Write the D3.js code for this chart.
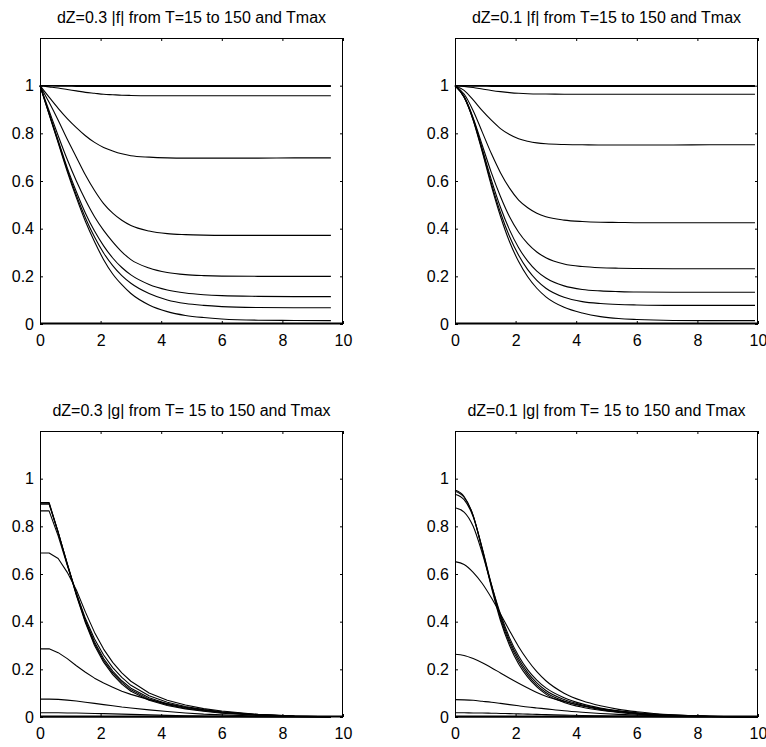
<!DOCTYPE html>
<html>
<head>
<meta charset="utf-8">
<script src="https://cdn.jsdelivr.net/npm/d3@7"></script>
<style>
  html, body { margin: 0; padding: 0; background: #fff; }
  svg { display: block; }
  text { font-family: "Liberation Sans", Arial, Helvetica, sans-serif; fill: #000; }
</style>
</head>
<body>
<svg id="chart" width="766" height="747"></svg>
<script>
// z sample positions (dZ = 0.3 runs end at 9.6, dZ = 0.1 runs end at 9.9)
const zDz03 = [0, 0.3, 0.6, 0.9, 1.2, 1.5, 1.8, 2.1, 2.4, 2.7, 3.0, 3.6, 4.2, 4.8, 5.4, 6.0, 7.2, 8.4, 9.6];
const zDz01 = [0, 0.3, 0.6, 0.9, 1.2, 1.5, 1.8, 2.1, 2.4, 2.7, 3.0, 3.6, 4.2, 4.8, 5.4, 6.0, 7.2, 8.4, 9.9];

const xTicks = [0, 2, 4, 6, 8, 10];
const yTicks = [0, 0.2, 0.4, 0.6, 0.8, 1];
const yTickLabels = ["0", "0.2", "0.4", "0.6", "0.8", "1"];

const titles = [
  "dZ=0.3 |f| from T=15 to 150 and Tmax",
  "dZ=0.1 |f| from T=15 to 150 and Tmax",
  "dZ=0.3 |g| from T= 15 to 150 and Tmax",
  "dZ=0.1 |g| from T= 15 to 150 and Tmax"
];

// |f|, dZ = 0.3
const fDz03 = [
  [1, 1, 1, 1, 1, 1, 1, 1, 1, 1, 1, 1, 1, 1, 1, 1, 1, 1, 1],
  [1, 0.999, 0.998, 0.998, 0.997, 0.997, 0.997, 0.997, 0.997, 0.997, 0.997, 0.997, 0.997, 0.997, 0.997, 0.997, 0.997, 0.997, 0.997],
  [1, 0.995, 0.99, 0.984, 0.978, 0.972, 0.968, 0.964, 0.962, 0.96, 0.959, 0.958, 0.958, 0.958, 0.958, 0.958, 0.958, 0.958, 0.958],
  [1, 0.952, 0.905, 0.862, 0.824, 0.79, 0.762, 0.741, 0.726, 0.714, 0.706, 0.7, 0.697, 0.696, 0.696, 0.696, 0.696, 0.697, 0.697],
  [1, 0.93, 0.855, 0.775, 0.70, 0.625, 0.56, 0.505, 0.465, 0.435, 0.413, 0.39, 0.379, 0.375, 0.373, 0.372, 0.372, 0.372, 0.372],
  [1, 0.895, 0.79, 0.69, 0.6, 0.52, 0.45, 0.393, 0.345, 0.303, 0.27, 0.235, 0.216, 0.207, 0.203, 0.201, 0.2, 0.2, 0.2],
  [1, 0.885, 0.77, 0.655, 0.555, 0.465, 0.39, 0.328, 0.277, 0.237, 0.206, 0.166, 0.143, 0.13, 0.123, 0.119, 0.116, 0.115, 0.115],
  [1, 0.882, 0.764, 0.647, 0.54, 0.445, 0.365, 0.298, 0.245, 0.203, 0.171, 0.128, 0.101, 0.086, 0.078, 0.073, 0.069, 0.068, 0.068],
  [1, 0.88, 0.76, 0.64, 0.53, 0.43, 0.345, 0.27, 0.21, 0.165, 0.128, 0.08, 0.052, 0.036, 0.027, 0.021, 0.016, 0.015, 0.014]
];

// |f|, dZ = 0.1
const fDz01 = [
  [1, 1, 1, 1, 1, 1, 1, 1, 1, 1, 1, 1, 1, 1, 1, 1, 1, 1, 1],
  [1, 0.999, 0.998, 0.998, 0.997, 0.997, 0.997, 0.997, 0.997, 0.997, 0.997, 0.997, 0.997, 0.997, 0.997, 0.997, 0.997, 0.997, 0.997],
  [1, 0.997, 0.992, 0.986, 0.98, 0.975, 0.971, 0.968, 0.966, 0.965, 0.965, 0.964, 0.964, 0.964, 0.964, 0.964, 0.964, 0.964, 0.964],
  [1, 0.98, 0.94, 0.895, 0.855, 0.82, 0.795, 0.777, 0.767, 0.76, 0.756, 0.753, 0.752, 0.751, 0.751, 0.751, 0.751, 0.752, 0.752],
  [1, 0.965, 0.895, 0.805, 0.715, 0.635, 0.57, 0.52, 0.488, 0.465, 0.45, 0.436, 0.43, 0.427, 0.426, 0.425, 0.425, 0.425, 0.425],
  [1, 0.955, 0.865, 0.75, 0.635, 0.535, 0.45, 0.385, 0.337, 0.302, 0.278, 0.252, 0.241, 0.236, 0.234, 0.233, 0.232, 0.232, 0.232],
  [1, 0.953, 0.86, 0.735, 0.605, 0.49, 0.395, 0.32, 0.264, 0.222, 0.193, 0.16, 0.145, 0.139, 0.136, 0.134, 0.133, 0.133, 0.133],
  [1, 0.952, 0.857, 0.728, 0.59, 0.468, 0.367, 0.288, 0.228, 0.183, 0.15, 0.112, 0.094, 0.086, 0.082, 0.08, 0.078, 0.078, 0.078],
  [1, 0.951, 0.855, 0.722, 0.58, 0.452, 0.345, 0.262, 0.198, 0.15, 0.114, 0.07, 0.046, 0.031, 0.023, 0.019, 0.015, 0.014, 0.014]
];

// |g|, dZ = 0.3
const gDz03 = [
  [0.900, 0.900, 0.775, 0.64, 0.51, 0.395, 0.30, 0.23, 0.178, 0.138, 0.108, 0.07, 0.048, 0.034, 0.024, 0.016, 0.007, 0.002, 0.0005],
  [0.897, 0.897, 0.776, 0.642, 0.514, 0.40, 0.307, 0.237, 0.185, 0.145, 0.114, 0.075, 0.052, 0.037, 0.026, 0.018, 0.008, 0.002, 0.0005],
  [0.893, 0.893, 0.774, 0.643, 0.517, 0.405, 0.315, 0.245, 0.193, 0.152, 0.121, 0.081, 0.056, 0.04, 0.028, 0.02, 0.009, 0.003, 0.001],
  [0.865, 0.865, 0.76, 0.636, 0.52, 0.413, 0.327, 0.26, 0.207, 0.166, 0.133, 0.089, 0.062, 0.044, 0.031, 0.022, 0.01, 0.003, 0.001],
  [0.688, 0.688, 0.665, 0.607, 0.533, 0.44, 0.355, 0.285, 0.229, 0.185, 0.15, 0.101, 0.07, 0.05, 0.035, 0.025, 0.011, 0.004, 0.001],
  [0.286, 0.286, 0.27, 0.245, 0.215, 0.188, 0.163, 0.143, 0.125, 0.108, 0.095, 0.073, 0.055, 0.041, 0.03, 0.021, 0.01, 0.004, 0.001],
  [0.075, 0.075, 0.074, 0.071, 0.067, 0.062, 0.057, 0.052, 0.047, 0.042, 0.038, 0.03, 0.023, 0.017, 0.012, 0.009, 0.004, 0.002, 0.001],
  [0.018, 0.018, 0.018, 0.017, 0.017, 0.016, 0.015, 0.014, 0.013, 0.012, 0.011, 0.009, 0.007, 0.005, 0.004, 0.003, 0.001, 0.0005, 0],
  [0, 0, 0, 0, 0, 0, 0, 0, 0, 0, 0, 0, 0, 0, 0, 0, 0, 0, 0]
];

// |g|, dZ = 0.1
const gDz01 = [
  [0.952, 0.925, 0.845, 0.70, 0.545, 0.405, 0.30, 0.222, 0.167, 0.126, 0.096, 0.061, 0.041, 0.028, 0.019, 0.012, 0.005, 0.002, 0],
  [0.947, 0.922, 0.845, 0.705, 0.552, 0.415, 0.311, 0.234, 0.177, 0.134, 0.103, 0.067, 0.046, 0.031, 0.021, 0.014, 0.006, 0.002, 0],
  [0.935, 0.912, 0.84, 0.707, 0.557, 0.423, 0.321, 0.244, 0.186, 0.143, 0.111, 0.073, 0.05, 0.034, 0.023, 0.016, 0.006, 0.002, 0],
  [0.878, 0.86, 0.80, 0.687, 0.555, 0.432, 0.332, 0.256, 0.198, 0.155, 0.122, 0.081, 0.055, 0.038, 0.026, 0.018, 0.007, 0.003, 0],
  [0.652, 0.64, 0.607, 0.56, 0.50, 0.432, 0.362, 0.295, 0.238, 0.19, 0.152, 0.1, 0.068, 0.047, 0.032, 0.022, 0.009, 0.003, 0],
  [0.263, 0.258, 0.245, 0.228, 0.207, 0.185, 0.163, 0.142, 0.122, 0.103, 0.087, 0.065, 0.047, 0.034, 0.025, 0.017, 0.008, 0.003, 0],
  [0.073, 0.072, 0.07, 0.066, 0.062, 0.057, 0.052, 0.047, 0.042, 0.038, 0.034, 0.026, 0.02, 0.015, 0.011, 0.008, 0.004, 0.002, 0],
  [0.018, 0.018, 0.017, 0.017, 0.016, 0.015, 0.014, 0.013, 0.012, 0.011, 0.01, 0.008, 0.006, 0.005, 0.004, 0.003, 0.001, 0.0005, 0],
  [0, 0, 0, 0, 0, 0, 0, 0, 0, 0, 0, 0, 0, 0, 0, 0, 0, 0, 0]
];

// Panel layout: axes boxes in a 2 x 2 grid
const panels = [
  { title: titles[0], z: zDz03, series: fDz03, left: 40,  top: 38,  curve: d3.curveMonotoneX },
  { title: titles[1], z: zDz01, series: fDz01, left: 455, top: 38,  curve: d3.curveMonotoneX },
  { title: titles[2], z: zDz03, series: gDz03, left: 40,  top: 431, curve: d3.curveLinear },
  { title: titles[3], z: zDz01, series: gDz01, left: 455, top: 431, curve: d3.curveMonotoneX }
];
const boxW = 303, boxH = 286;
const tickLen = 3;

const svg = d3.select("#chart");

panels.forEach(p => {
  const g = svg.append("g").attr("transform", `translate(${p.left},${p.top})`);
  const x = d3.scaleLinear().domain([0, 10]).range([0, boxW]);
  const y = d3.scaleLinear().domain([0, 1.2]).range([boxH, 0]);

  // inward ticks on all four sides
  const bottom = g.append("g").attr("transform", `translate(0,${boxH})`)
    .call(d3.axisBottom(x).tickValues(xTicks).tickSizeInner(-tickLen).tickSizeOuter(0).tickPadding(11).tickFormat(d3.format("d")));
  const top = g.append("g")
    .call(d3.axisTop(x).tickValues(xTicks).tickSizeInner(-tickLen).tickSizeOuter(0).tickFormat(""));
  const left = g.append("g")
    .call(d3.axisLeft(y).tickValues(yTicks).tickSizeInner(-tickLen).tickSizeOuter(0).tickPadding(6)
      .tickFormat((d, i) => yTickLabels[i]));
  const right = g.append("g").attr("transform", `translate(${boxW},0)`)
    .call(d3.axisRight(y).tickValues(yTicks).tickSizeInner(-tickLen).tickSizeOuter(0).tickFormat(""));

  [bottom, top, left, right].forEach(a => {
    a.select(".domain").remove();
    a.selectAll(".tick line").attr("stroke", "#000").attr("stroke-width", 1);
    a.selectAll("text").attr("font-size", 16).attr("font-family", "'Liberation Sans', Arial, sans-serif");
  });

  // curves
  const line = d3.line()
    .x((d, i) => x(p.z[i]))
    .y(d => y(d))
    .curve(p.curve);
  g.append("g").selectAll("path")
    .data(p.series)
    .join("path")
    .attr("d", line)
    .attr("fill", "none")
    .attr("stroke", "#000")
    .attr("stroke-width", 1.1)
    .attr("stroke-linejoin", "round");

  // axes box
  g.append("rect")
    .attr("x", 0.5).attr("y", 0.5)
    .attr("width", boxW - 1).attr("height", boxH - 1)
    .attr("fill", "none").attr("stroke", "#000").attr("stroke-width", 1);
  g.append("line")
    .attr("x1", 0).attr("x2", boxW)
    .attr("y1", boxH - 0.5).attr("y2", boxH - 0.5)
    .attr("stroke", "#000").attr("stroke-width", 2);

  // title
  g.append("text")
    .attr("x", boxW / 2).attr("y", -15.5)
    .attr("text-anchor", "middle")
    .attr("font-size", 16)
    .text(p.title);
});
</script>
</body>
</html>
